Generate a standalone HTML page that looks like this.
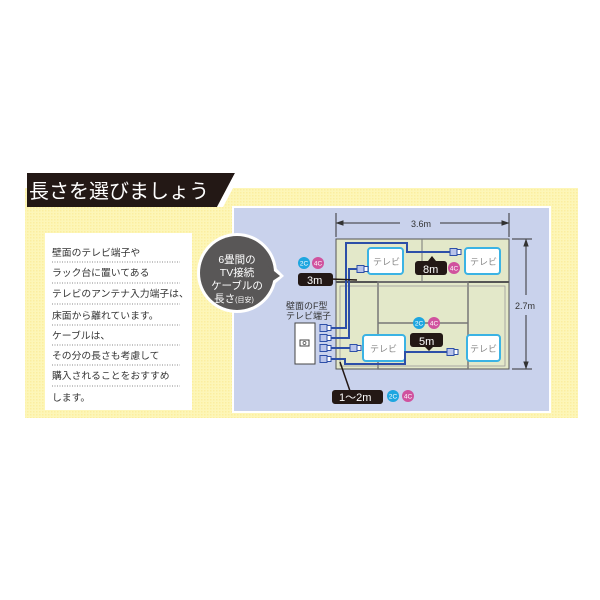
<!DOCTYPE html>
<html><head><meta charset="utf-8"><style>
body{margin:0;background:#fff;}
svg{display:block;font-family:"Liberation Sans","Noto Sans CJK JP",sans-serif;}
</style></head><body>
<svg width="600" height="600" viewBox="0 0 600 600">
<defs>
<pattern id="y" width="3" height="3" patternUnits="userSpaceOnUse">
<rect width="3" height="3" fill="#fdf6b8"/><rect width="1.5" height="1.5" fill="#fbeea0"/>
</pattern>
<g id="conn"><rect x="0" y="-3.5" width="7" height="7" fill="#b9c4ea" stroke="#2d4fa8" stroke-width="1"/><rect x="7" y="-2.5" width="4" height="5" fill="#fff" stroke="#2d4fa8" stroke-width="1"/></g>
</defs>
<rect x="25" y="188" width="553" height="230" fill="url(#y)"/>
<polygon points="27,173 235,173 217,207 27,207" fill="#231815"/>
<polygon points="235,173 241,173 223,207 217,207" fill="#fff"/>
<text x="29" y="198" font-size="20" fill="#fff">長さを選びましょう</text>
<rect x="45" y="233" width="147" height="177" fill="#fff"/>
<g font-size="9.8" fill="#333">
<text x="52" y="256">壁面のテレビ端子や</text>
<text x="52" y="276">ラック台に置いてある</text>
<text x="52" y="297">テレビのアンテナ入力端子は、</text>
<text x="52" y="319">床面から離れています。</text>
<text x="52" y="339">ケーブルは、</text>
<text x="52" y="359">その分の長さも考慮して</text>
<text x="52" y="379">購入されることをおすすめ</text>
<text x="52" y="401">します。</text>
</g>
<g stroke="#888" stroke-width="1" stroke-dasharray="1,1.5">
<line x1="52" y1="262" x2="180" y2="262"/><line x1="52" y1="283" x2="180" y2="283"/>
<line x1="52" y1="304" x2="180" y2="304"/><line x1="52" y1="325" x2="180" y2="325"/>
<line x1="52" y1="345" x2="180" y2="345"/><line x1="52" y1="365" x2="180" y2="365"/>
<line x1="52" y1="386" x2="180" y2="386"/>
</g>
<rect x="233" y="207" width="317" height="205" fill="#c9d2ec" stroke="#fff" stroke-width="2"/>
<rect x="336" y="239" width="173" height="130" fill="#e3e8c9" stroke="#555" stroke-width="1"/>
<line x1="336" y1="282" x2="509" y2="282" stroke="#555" stroke-width="2"/>
<line x1="422" y1="239" x2="422" y2="282" stroke="#777" stroke-width="1"/>
<rect x="378" y="282" width="90" height="87" fill="none" stroke="#777" stroke-width="1.5"/>
<line x1="378" y1="323" x2="468" y2="323" stroke="#777" stroke-width="1.5"/>
<rect x="340" y="286" width="165" height="80" fill="none" stroke="#999" stroke-width="0.8"/>
<g stroke="#333" stroke-width="1" fill="#333">
<line x1="336" y1="213" x2="336" y2="237"/><line x1="509" y1="213" x2="509" y2="237"/>
<line x1="338" y1="223" x2="400" y2="223"/><line x1="440" y1="223" x2="507" y2="223"/>
<polygon points="337,223 343,221 343,225"/><polygon points="508,223 502,221 502,225"/>
<line x1="512" y1="239" x2="532" y2="239"/><line x1="512" y1="369" x2="532" y2="369"/>
<line x1="526" y1="241" x2="526" y2="295"/><line x1="526" y1="315" x2="526" y2="367"/>
<polygon points="526,240 524,246 528,246"/><polygon points="526,368 524,362 528,362"/>
</g>
<text x="411" y="227" font-size="9" fill="#333">3.6m</text>
<text x="515" y="309" font-size="9" fill="#333">2.7m</text>
<g fill="#fff" stroke="#3bb3e4" stroke-width="2">
<rect x="368" y="248" width="35" height="26" rx="3"/><rect x="465" y="248" width="35" height="26" rx="3"/>
<rect x="363" y="335" width="42" height="26" rx="3"/><rect x="467" y="335" width="33" height="26" rx="3"/>
</g>
<g font-size="9" fill="#888">
<text x="373" y="265">テレビ</text><text x="470" y="265">テレビ</text>
<text x="370" y="352">テレビ</text><text x="470" y="352">テレビ</text>
</g>
<g fill="none" stroke="#2d4fa8" stroke-width="2">
<polyline points="330,328 346,328 346,243 407,243 407,252 450,252"/>
<polyline points="330,338 349,338 349,269 357,269"/>
<polyline points="330,348 350,348"/>
<polyline points="330,359 345,359 345,364 405,364 405,352 447,352"/>
</g>
<use href="#conn" x="320" y="328"/><use href="#conn" x="320" y="338"/>
<use href="#conn" x="320" y="348"/><use href="#conn" x="320" y="359"/>
<use href="#conn" x="357" y="269"/><use href="#conn" x="450" y="252"/>
<use href="#conn" x="350" y="348"/><use href="#conn" x="447" y="352"/>
<rect x="295" y="323" width="20" height="41" fill="#fff" stroke="#444" stroke-width="1"/>
<rect x="300" y="340" width="9" height="6" fill="none" stroke="#444"/>
<circle cx="304.5" cy="343" r="1.5" fill="none" stroke="#444" stroke-width="0.7"/>
<text x="286" y="309" font-size="9" fill="#333">壁面のF型</text>
<text x="286" y="319" font-size="9" fill="#333">テレビ端子</text>
<g stroke="#231815" stroke-width="1.5"><line x1="330" y1="279" x2="357" y2="280"/><line x1="340" y1="362" x2="350" y2="391"/></g>
<rect x="298" y="273" width="35" height="13" rx="3" fill="#231815"/><text x="307" y="284" font-size="11" fill="#fff">3m</text>
<rect x="415" y="261" width="32" height="14" rx="3" fill="#231815"/><polygon points="428,261 432,256 436,261" fill="#231815"/><text x="423" y="273" font-size="11" fill="#fff">8m</text>
<rect x="410" y="333" width="33" height="14" rx="3" fill="#231815"/><polygon points="425,347 429,351 433,347" fill="#231815"/><text x="419" y="345" font-size="11" fill="#fff">5m</text>
<rect x="332" y="390" width="51" height="14" rx="3" fill="#231815"/><text x="339" y="401" font-size="11" fill="#fff">1〜2m</text>
<g font-size="6.5" fill="#fff" text-anchor="middle">
<circle cx="304" cy="263" r="6" fill="#1ea6e0"/><text x="304" y="265.5">2C</text>
<circle cx="318" cy="263" r="6" fill="#d0529e"/><text x="318" y="265.5">4C</text>
<circle cx="454" cy="268" r="6" fill="#d0529e"/><text x="454" y="270.5">4C</text>
<circle cx="419" cy="323" r="6" fill="#1ea6e0"/><text x="419" y="325.5">2C</text>
<circle cx="434" cy="323" r="6" fill="#d0529e"/><text x="434" y="325.5">4C</text>
<circle cx="393" cy="396" r="6" fill="#1ea6e0"/><text x="393" y="398.5">2C</text>
<circle cx="408" cy="396" r="6" fill="#d0529e"/><text x="408" y="398.5">4C</text>
</g>
<circle cx="237" cy="273" r="40" fill="#fff"/>
<polygon points="270,262 284,276 270,288" fill="#fff"/>
<circle cx="237" cy="273" r="37" fill="#595757"/>
<polygon points="268,266 280,276 268,284" fill="#595757"/>
<g fill="#fff" font-size="10.5" text-anchor="middle">
<text x="237" y="263">6畳間の</text><text x="237" y="276">TV接続</text>
<text x="237" y="289">ケーブルの</text><text x="234" y="302">長さ<tspan font-size="7">(目安)</tspan></text>
</g>
</svg>
</body></html>
